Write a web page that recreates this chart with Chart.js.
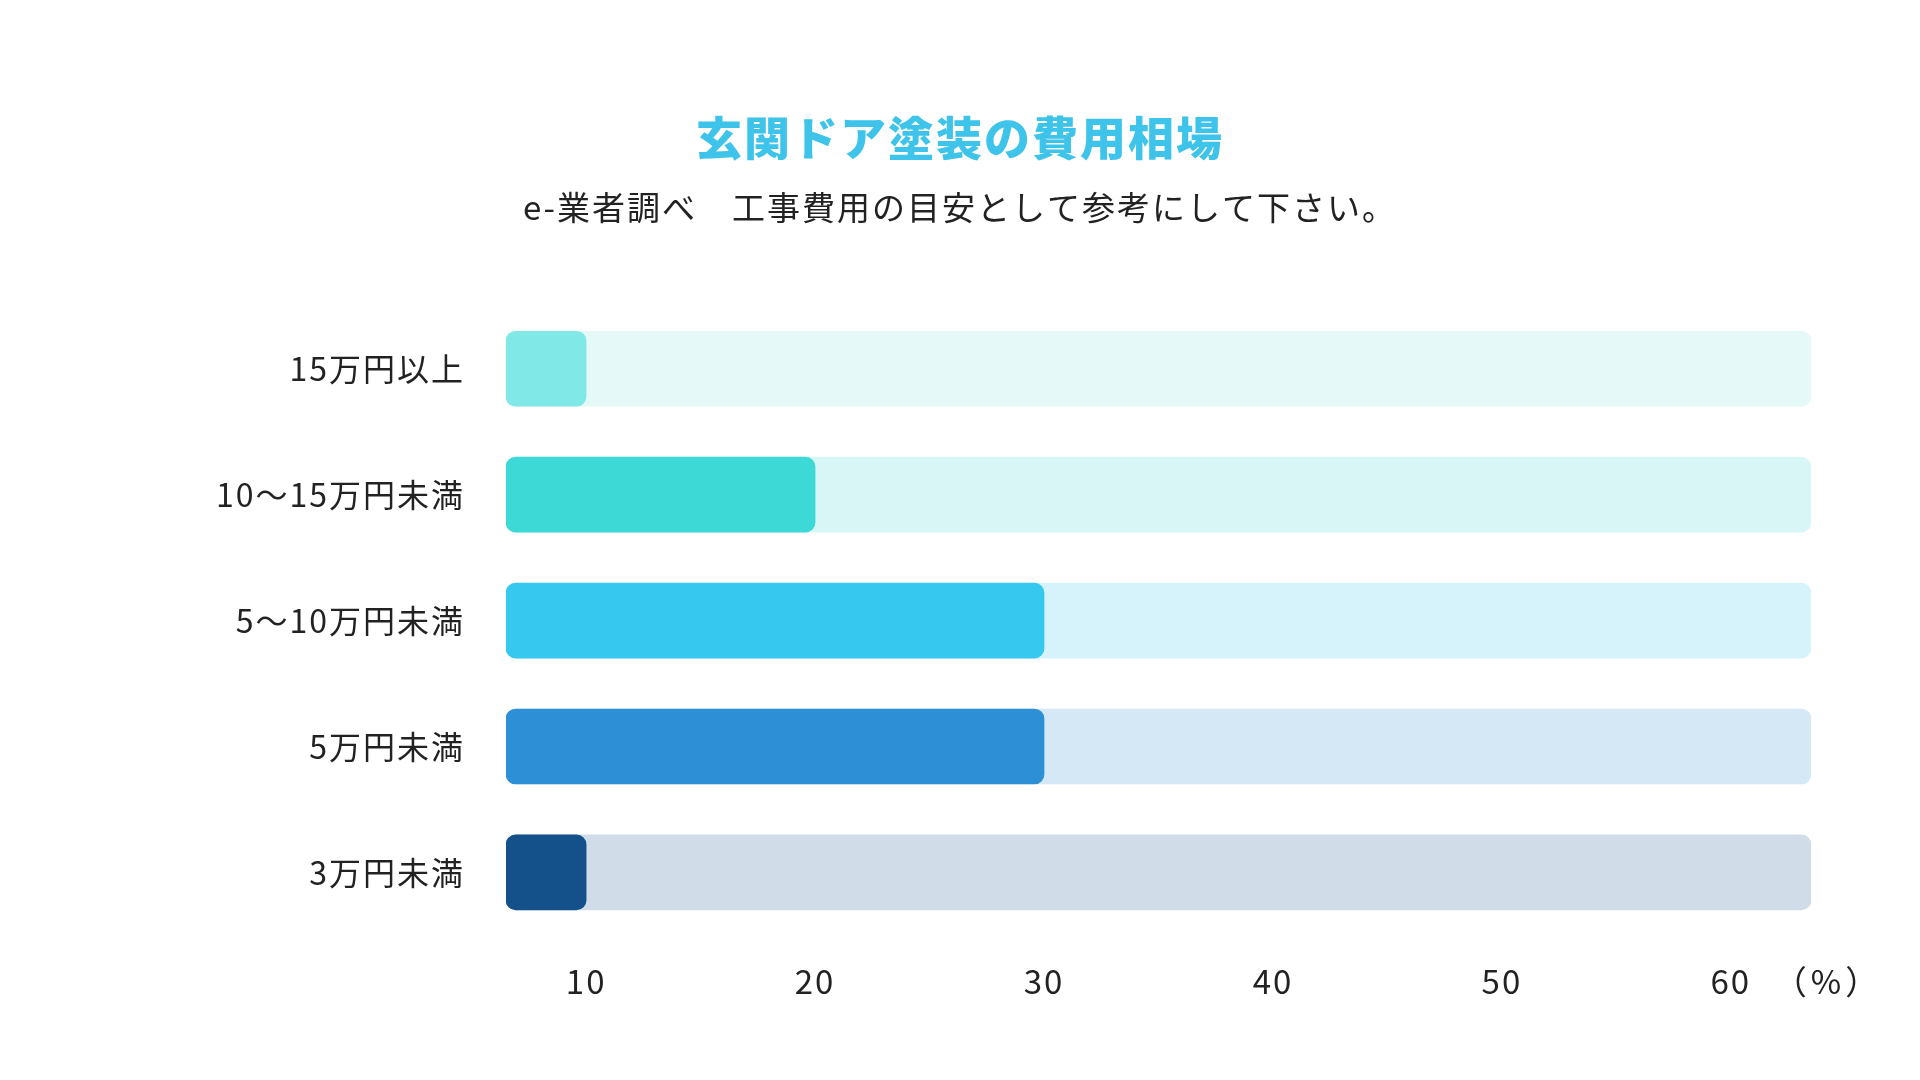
<!DOCTYPE html>
<html lang="ja">
<head>
<meta charset="utf-8">
<title>玄関ドア塗装の費用相場</title>
<script src="https://cdn.jsdelivr.net/npm/chart.js@4.4.1/dist/chart.umd.min.js"></script>
<style>
  html,body{margin:0;padding:0;background:#fff;}
  #wrap{width:1920px;height:1080px;position:relative;}
</style>
</head>
<body>
<div id="wrap"><canvas id="c" width="1920" height="1080"></canvas></div>
<script>
// data
const labels = ['15万円以上', '10〜15万円未満', '5〜10万円未満', '5万円未満', '3万円未満'];
const values = [10, 20, 30, 30, 10];
const tickValues = [10, 20, 30, 40, 50, 60];
const axisMin = 6.5;
const axisMax = 63.5;
const unitLabel = '（%）';

const barColors   = ['#80e8e6', '#3dd9d6', '#37c8ef', '#2d8fd6', '#14508a'];
const trackColors = ['#e5f9f8', '#d8f6f5', '#d6f2fb', '#d5e8f6', '#d0dce8'];
const FONT = '"Noto Sans CJK JP", "Noto Sans", sans-serif';
const TICK_SIZE = 33;

// text in the reference is slightly letter-spaced
const spacingPlugin = {
  id: 'spacing',
  beforeDraw(chart){ chart.ctx.letterSpacing = '2px'; }
};

// "（%）" unit text after the last tick
const unitPlugin = {
  id: 'unit',
  afterDraw(chart){
    const ctx = chart.ctx, x = chart.scales.x;
    const last = tickValues[tickValues.length-1];
    ctx.save();
    ctx.font = TICK_SIZE + 'px ' + FONT;
    ctx.letterSpacing = '4px';
    ctx.fillStyle = '#222';
    ctx.textAlign = 'left';
    ctx.textBaseline = 'middle';
    ctx.fillText(unitLabel, x.getPixelForValue(last) + 43, x.top + 26 + TICK_SIZE * 0.6);
    ctx.restore();
  }
};

new Chart(document.getElementById('c'), {
  type: 'bar',
  data: {
    labels,
    datasets: [
      { data: values, backgroundColor: barColors, base: axisMin, grouped: false,
        borderRadius: 10, borderSkipped: false, barThickness: 75 },
      { data: labels.map(() => axisMax), backgroundColor: trackColors, base: axisMin, grouped: false,
        borderRadius: 10, borderSkipped: false, barThickness: 75 }
    ]
  },
  options: {
    indexAxis: 'y',
    responsive: false,
    animation: false,
    layout: { padding: { left: 109, right: 109, top: 0, bottom: 53 } },
    plugins: {
      legend: { display: false },
      tooltip: { enabled: false },
      title: {
        display: true,
        text: '玄関ドア塗装の費用相場',
        color: '#3ec4ea',
        font: { family: FONT, size: 46, weight: '900', lineHeight: 1.2 },
        padding: { top: 110, bottom: 0 }
      },
      subtitle: {
        display: true,
        text: 'e-業者調べ　工事費用の目安として参考にして下さい。',
        color: '#222',
        font: { family: FONT, size: 33, weight: '400', lineHeight: 1.2 },
        padding: { top: 22, bottom: 79 }
      }
    },
    scales: {
      x: {
        type: 'linear',
        min: axisMin,
        max: axisMax,
        afterBuildTicks: s => { s.ticks = tickValues.map(v => ({ value: v })); },
        grid: { display: false, drawTicks: false },
        border: { display: false },
        ticks: { color: '#222', padding: 26, font: { family: FONT, size: TICK_SIZE } }
      },
      y: {
        grid: { display: false, drawTicks: false },
        border: { display: false },
        afterFit: s => { s.width = 397; },
        ticks: { color: '#222', padding: 41, font: { family: FONT, size: 32 } }
      }
    }
  },
  plugins: [spacingPlugin, unitPlugin]
});
</script>
</body>
</html>
